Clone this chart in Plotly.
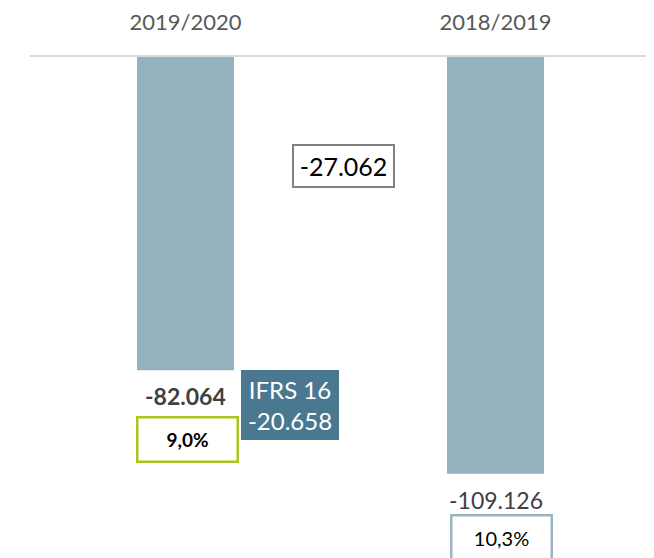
import plotly.graph_objects as go

categories = ["2019/2020", "2018/2019"]
values = [-82.064, -109.126]
value_labels = ["-82.064", "-109.126"]
pct_labels = ["9,0%", "10,3%"]
ifrs_label = "IFRS 16<br>-20.658"
diff_value = -27.062
diff_label = "-27.062"

BAR = "#95b1be"
FONT = "Lato"

fig = go.Figure()
fig.add_trace(go.Bar(x=[0, 1], y=values, width=0.313, marker_color=BAR,
                     marker_line_width=0, hoverinfo="skip"))

ann = []
# value labels under bars
ann.append(dict(x=0, y=values[0], xref="x", yref="y", text="<b>" + value_labels[0] + "</b>",
                showarrow=False, yanchor="top", yshift=-10,
                font=dict(family=FONT, size=23, color="#404040")))
ann.append(dict(x=1, y=values[1], xref="x", yref="y", text=value_labels[1],
                showarrow=False, yanchor="top", yshift=-10,
                font=dict(family=FONT, size=23, color="#404040")))
# percentage boxes
ann.append(dict(x=0, y=values[0], xref="x", yref="y", text="<b>" + pct_labels[0] + "</b>",
                showarrow=False, yanchor="top", yshift=-46, xshift=2,
                width=98, height=42, borderwidth=2.5, borderpad=0,
                bordercolor="#a9c61a", bgcolor="white",
                font=dict(family=FONT, size=19, color="#000000")))
ann.append(dict(x=1, y=values[1], xref="x", yref="y", text=pct_labels[1],
                showarrow=False, yanchor="top", yshift=-40, xshift=6,
                width=98, height=42, borderwidth=2.5, borderpad=0,
                bordercolor="#9ab4c1", bgcolor="white",
                font=dict(family=FONT, size=20, color="#000000")))
# IFRS box
ann.append(dict(x=0, y=values[0], xref="x", yref="y", text=ifrs_label,
                showarrow=False, yanchor="top", xshift=104.5, yshift=0,
                width=98, height=70, borderpad=0, borderwidth=0,
                bgcolor="#4a7890",
                font=dict(family=FONT, size=24, color="white")))
# difference box
ann.append(dict(x=0.5, y=diff_value, xref="x", yref="y", text=diff_label,
                showarrow=False, yanchor="middle", xshift=3, yshift=-6,
                width=99, height=40, borderwidth=2, borderpad=0,
                bordercolor="#808080", bgcolor="white",
                font=dict(family=FONT, size=25, color="#000000")))

fig.update_layout(
    width=654, height=558,
    margin=dict(l=22, r=0, t=46, b=0),
    paper_bgcolor="white", plot_bgcolor="white",
    showlegend=False,
    annotations=ann,
    xaxis=dict(range=[-0.5016, 1.537], side="top", tickvals=[0, 1], ticktext=categories,
               showline=True, linecolor="#d9d9d9", linewidth=1.5,
               showgrid=False, zeroline=False, ticks="", ticklabelstandoff=16,
               tickfont=dict(family=FONT, size=22, color="#595959"), fixedrange=True),
    yaxis=dict(range=[-133.3, 0], visible=False, showgrid=False, zeroline=False, fixedrange=True),
)

fig.write_html("out.html")
